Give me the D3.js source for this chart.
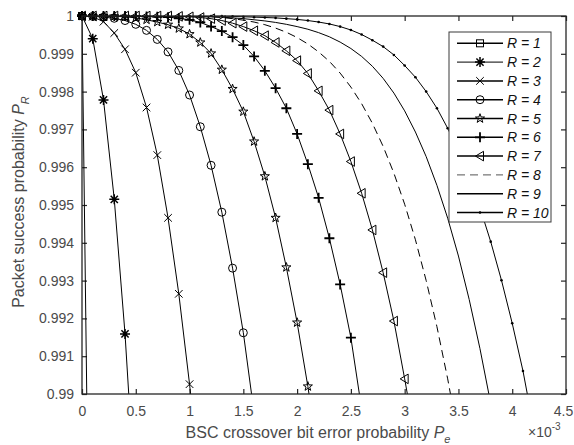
<!DOCTYPE html>
<html><head><meta charset="utf-8">
<script src="https://cdn.jsdelivr.net/npm/d3@7"></script>
<style>
body{margin:0;background:#fff}
svg{display:block;font-family:"Liberation Sans",Arial,sans-serif}
</style>
</head><body>
<svg id="c" width="574" height="445"></svg>
<script>
// x values (BSC crossover bit error probability, units of 1e-3)
const pe = [0,0.1,0.2,0.3,0.4,0.5,0.6,0.7,0.8,0.9,1.0,1.1,1.2,1.3,1.4,1.5,1.6,1.7,1.8,1.9,2.0,2.1,2.2,2.3,2.4,2.5,2.6,2.7,2.8,2.9,3.0,3.1,3.2,3.3,3.4,3.5,3.6,3.7,3.8,3.9,4.0,4.1,4.2];

const R1 = [1,0.9773];
const R2 = [1,0.9994,0.99778,0.99515,0.99159,0.9870];
const R3 = [1,0.99998,0.99985,0.99955,0.99912,0.9985,0.99758,0.99632,0.99466,0.99265,0.99026,0.9875];
const R4 = [1,0.99999,0.99997,0.99994,0.99988,0.99978,0.99962,0.99938,0.99905,0.99856,0.99791,0.99707,0.99605,0.99481,0.99333,0.99162,0.9895];
const R5 = [1,1,1,0.99999,0.99998,0.99995,0.9999,0.99984,0.99977,0.99967,0.99952,0.9993,0.99901,0.99858,0.99807,0.99747,0.99668,0.99576,0.99466,0.99335,0.99189,0.9902,0.9883];
const R6 = [1,1,1,1,1,1,0.99999,0.99998,0.99997,0.99994,0.9999,0.99983,0.99972,0.9996,0.99944,0.99923,0.99893,0.99855,0.99809,0.99756,0.99688,0.99608,0.99519,0.99412,0.9929,0.99149,0.9896];
const R7 = [1,1,1,1,1,1,1,1,1,0.99999,0.99998,0.99996,0.99993,0.99988,0.99981,0.99972,0.99961,0.99948,0.9993,0.99908,0.99882,0.99848,0.99802,0.99751,0.99688,0.99615,0.99531,0.99434,0.99321,0.99193,0.9904,0.9888];
const R8 = [1,1,1,1,1,1,1,1,1,1,1,0.99999,0.99998,0.99996,0.99993,0.99989,0.99984,0.99977,0.99968,0.99957,0.99943,0.99926,0.99905,0.9988,0.99849,0.99812,0.99768,0.99716,0.99655,0.99584,0.99502,0.99408,0.993,0.99178,0.9904,0.98885];
const R9 = [1,1,1,1,1,1,1,1,1,1,1,0.99999,0.99998,0.99997,0.99995,0.99993,0.9999,0.99987,0.99983,0.99978,0.99972,0.99965,0.99956,0.99945,0.99931,0.99914,0.99893,0.99867,0.99835,0.99796,0.99749,0.99693,0.99628,0.99552,0.99465,0.99365,0.9925,0.9912,0.98975];
const R10 = [1,1,1,1,1,1,1,1,1,1,1,1,1,1,0.99999,0.99998,0.99997,0.99996,0.99995,0.99993,0.99991,0.99988,0.99984,0.99979,0.99972,0.99963,0.99951,0.99936,0.99919,0.99897,0.99869,0.99838,0.998,0.99756,0.99703,0.99643,0.99573,0.99493,0.99403,0.99301,0.99187,0.99061,0.9891];

const seriesLabels = ["R = 1","R = 2","R = 3","R = 4","R = 5","R = 6","R = 7","R = 8","R = 9","R = 10"];
const xTicks = [0,0.5,1,1.5,2,2.5,3,3.5,4,4.5];
const xTickLabels = ["0","0.5","1","1.5","2","2.5","3","3.5","4","4.5"];
const yTicks = [0.99,0.991,0.992,0.993,0.994,0.995,0.996,0.997,0.998,0.999,1];
const yTickLabels = ["0.99","0.991","0.992","0.993","0.994","0.995","0.996","0.997","0.998","0.999","1"];

const allSeries = [R1,R2,R3,R4,R5,R6,R7,R8,R9,R10];
const markerTypes = ["square","asterisk","x","circle","pentagram","plus","triangle","none","none","dot"];
const dashTypes = [null,null,null,null,null,null,null,"8,5",null,null];

const svg = d3.select("#c");
const L=82, Rr=566, T=16, B=394;
const x = d3.scaleLinear().domain([0,4.5]).range([L,Rr]);
const y = d3.scaleLinear().domain([0.99,1]).range([B,T]);
const axisCol = "#262626", textCol = "#4a4a4a";

svg.append("defs").append("clipPath").attr("id","clip")
  .append("rect").attr("x",L).attr("y",T).attr("width",Rr-L).attr("height",B-T);

// axes
function styleAxis(g){
  g.select(".domain").remove();
  g.selectAll(".tick line").attr("stroke",axisCol).attr("stroke-width",1.2);
  g.selectAll(".tick text").attr("fill",textCol).style("font-size","14px").style("font-family",'"Liberation Sans",Arial,sans-serif');
}
const xb = svg.append("g").attr("transform",`translate(0,${B})`)
  .call(d3.axisBottom(x).tickValues(xTicks).tickFormat((d,i)=>xTickLabels[i]).tickSize(-5).tickPadding(12)).call(styleAxis);
xb.selectAll(".tick text").filter(d=>d===4.5).attr("dx",-3);
svg.append("g").attr("transform",`translate(0,${T})`)
  .call(d3.axisTop(x).tickValues(xTicks).tickFormat("").tickSize(-5)).call(styleAxis);
svg.append("g").attr("transform",`translate(${L},0)`)
  .call(d3.axisLeft(y).tickValues(yTicks).tickFormat((d,i)=>yTickLabels[i]).tickSize(-5).tickPadding(8)).call(styleAxis);
svg.append("g").attr("transform",`translate(${Rr},0)`)
  .call(d3.axisRight(y).tickValues(yTicks).tickFormat("").tickSize(-5)).call(styleAxis);

// lines
const plot = svg.append("g");
const lineGen = d3.line().x((d,i)=>x(pe[i])).y(d=>y(d));
allSeries.forEach((s,k)=>{
  plot.append("path").attr("d",lineGen(s)).attr("clip-path","url(#clip)")
    .attr("fill","none").attr("stroke","#000").attr("stroke-width",1)
    .attr("stroke-dasharray",dashTypes[k]);
});

function drawMarker(g,type,cx,cy){
  const st = {fill:"none",stroke:"#000","stroke-width":1};
  let el;
  switch(type){
    case "square":
      el=g.append("rect").attr("x",cx-3.5).attr("y",cy-3.5).attr("width",7).attr("height",7); break;
    case "asterisk":
      el=g.append("path").attr("d",`M${cx-5},${cy}h10M${cx},${cy-5}v10M${cx-3.6},${cy-3.6}l7.2,7.2M${cx-3.6},${cy+3.6}l7.2,-7.2`); st["stroke-width"]=1.5; break;
    case "x":
      el=g.append("path").attr("d",`M${cx-3.8},${cy-3.8}l7.6,7.6M${cx-3.8},${cy+3.8}l7.6,-7.6`); break;
    case "circle":
      el=g.append("circle").attr("cx",cx).attr("cy",cy).attr("r",4); break;
    case "pentagram": {
      const pts=[];
      for(let j=0;j<10;j++){
        const r = j%2===0?4.8:1.9, a=-Math.PI/2+j*Math.PI/5;
        pts.push([cx+r*Math.cos(a),cy+r*Math.sin(a)]);
      }
      el=g.append("polygon").attr("points",pts.map(p=>p.join(",")).join(" ")); break;
    }
    case "plus":
      el=g.append("path").attr("d",`M${cx-5},${cy}h10M${cx},${cy-5}v10`); st["stroke-width"]=1.8; break;
    case "triangle":
      el=g.append("path").attr("d",`M${cx-4.5},${cy}L${cx+3.5},${cy-4.8}L${cx+3.5},${cy+4.8}Z`); break;
    case "dot":
      el=g.append("circle").attr("cx",cx).attr("cy",cy).attr("r",1.3); st.fill="#000"; st.stroke="none"; break;
    default: return;
  }
  Object.entries(st).forEach(([k,v])=>el.attr(k,v));
}

allSeries.forEach((s,k)=>{
  s.forEach((v,i)=>{
    if(v>=0.99 && pe[i]<=4.5) drawMarker(plot,markerTypes[k],x(pe[i]),y(v));
  });
});

// box
svg.append("rect").attr("x",L).attr("y",T).attr("width",Rr-L).attr("height",B-T)
  .attr("fill","none").attr("stroke",axisCol).attr("stroke-width",1.3);

// legend
const lg = svg.append("g");
lg.append("rect").attr("x",449).attr("y",32).attr("width",102).attr("height",190)
  .attr("fill","#fff").attr("stroke","#3a3a3a").attr("stroke-width",1);
seriesLabels.forEach((lab,k)=>{
  const cy = 43.3 + k*18.8;
  lg.append("line").attr("x1",457).attr("x2",503).attr("y1",cy).attr("y2",cy)
    .attr("stroke",k===7?"#555":"#000").attr("stroke-width",k===1||k===7?1:1.5)
    .attr("stroke-dasharray",dashTypes[k]);
  drawMarker(lg,markerTypes[k],480,cy);
  lg.append("text").attr("x",507).attr("y",cy+5).attr("fill","#111")
    .style("font-size","14px").style("font-style","italic").text(lab);
});

// axis labels
const xl = svg.append("text").attr("x",318).attr("y",438).attr("text-anchor","middle")
  .attr("fill",textCol).style("font-size","16px");
xl.append("tspan").text("BSC crossover bit error probability ");
xl.append("tspan").style("font-style","italic").text("P");
xl.append("tspan").style("font-style","italic").style("font-size","11px").attr("dy",5).text("e");

const yl = svg.append("text").attr("transform","translate(24,202) rotate(-90)").attr("text-anchor","middle")
  .attr("fill",textCol).style("font-size","16px");
yl.append("tspan").text("Packet success probability ");
yl.append("tspan").style("font-style","italic").text("P");
yl.append("tspan").style("font-style","italic").style("font-size","11px").attr("dy",5).text("R");

const ex = svg.append("text").attr("x",528).attr("y",437).attr("fill",textCol).style("font-size","14px");
ex.append("tspan").text("\u00d710");
ex.append("tspan").style("font-size","10px").attr("dy",-7).text("-3");
</script>
</body></html>
